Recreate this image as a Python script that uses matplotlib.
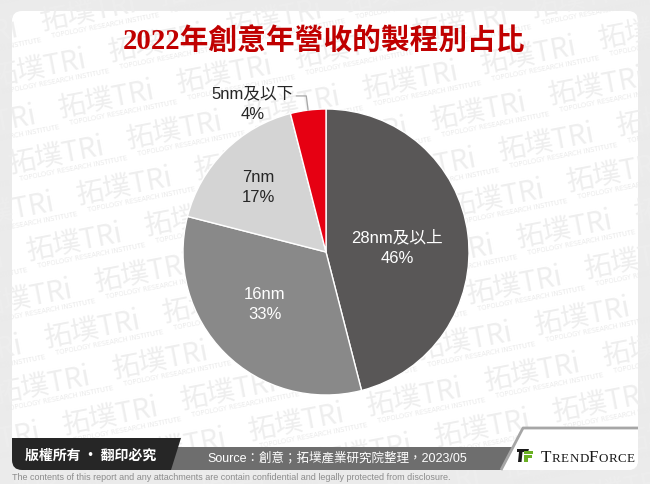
import matplotlib
matplotlib.use('Agg')
import matplotlib.pyplot as plt
from matplotlib.patches import FancyBboxPatch, Polygon
from matplotlib import font_manager
import numpy as np

# ---------------- data ----------------
categories = ['28nm及以上', '16nm', '7nm', '5nm及以下']
shares = [46, 33, 17, 4]
title = '2022年創意年營收的製程別占比'
source_text = 'Source：創意；拓墣產業研究院整理，2023/05'
copyright_text = '版權所有 · 翻印必究'
disclaimer = ('The contents of this report and any attachments are contain '
              'confidential and legally protected from disclosure.')
brand = 'TRENDFORCE'
wm_main = '拓墣TRi'
wm_sub = 'TOPOLOGY RESEARCH INSTITUTE'

# ---------------- style ----------------
slice_colors = ['#595757', '#898989', '#d4d4d4', '#e60012']
label_colors = ['white', 'white', '#262626', '#262626']
label_dist = [0.50, 0.56, 0.66, 1.16]
label_shift = [-3, -5, 1, 19]      # degrees added to slice mid-angle
CJK = 'Noto Sans CJK TC'
LAB = ['Liberation Sans', CJK]

W, H = 650, 485
fig = plt.figure(figsize=(6.5, 4.85), dpi=100)
fig.patch.set_facecolor('#ebebeb')
renderer = fig.canvas.get_renderer()

bg = fig.add_axes([0, 0, 1, 1])
bg.set_xlim(0, W)
bg.set_ylim(H, 0)
bg.axis('off')

PX0, PY0, PX1, PY1 = 12, 12, 638, 471
panel = FancyBboxPatch((PX0, PY0), PX1 - PX0, PY1 - PY0,
                       boxstyle='round,pad=0,rounding_size=10',
                       fc='white', ec='none', zorder=1)
bg.add_patch(panel)


def fit_width(t, target):
    bb = t.get_window_extent(renderer=renderer)
    t.set_fontsize(t.get_fontsize() * target / bb.width)


# ---------------- watermark ----------------
rot = 11
ang = np.deg2rad(rot)
u = np.array([np.cos(ang), -np.sin(ang)])
n = np.array([np.sin(ang), np.cos(ang)])
v1 = np.array([68, 31])
v2 = np.array([18, 87])
origin = np.array([60, 117])
for i in range(-10, 14):
    for j in range(-6, 10):
        p = origin + i * v1 + j * v2
        if -160 < p[0] < 660 and -20 < p[1] < 520:
            t = bg.text(p[0], p[1], wm_main, fontsize=20,
                        family=CJK, color='#eeeeee', rotation=rot,
                        rotation_mode='anchor', ha='left', va='baseline',
                        zorder=2)
            t.set_clip_path(panel)
            q = p + 8 * u + 10 * n
            t2 = bg.text(q[0], q[1], wm_sub, fontsize=4.8, family='DejaVu Sans',
                         color='#eaeaea', rotation=rot, rotation_mode='anchor',
                         ha='left', va='baseline', zorder=2)
            t2.set_clip_path(panel)

# ---------------- title ----------------
tt = bg.text(324, 41, title, color='#c00000', fontsize=20, fontweight='bold',
             family=['Liberation Serif', CJK], ha='center', va='center',
             zorder=5)
fit_width(tt, 402)

# ---------------- pie ----------------
cx, cy, R = 326, 253, 143
ax = fig.add_axes([(cx - R) / W, (H - cy - R) / H, 2 * R / W, 2 * R / H])
wedges, _ = ax.pie(shares, colors=slice_colors, startangle=90,
                   counterclock=False, radius=1,
                   wedgeprops=dict(edgecolor='white', linewidth=1.0))
ax.set_xlim(-1, 1)
ax.set_ylim(-1, 1)
ax.axis('off')

for i, w in enumerate(wedges):
    mid = (w.theta1 + w.theta2) / 2
    a = np.deg2rad(mid + label_shift[i])
    d = label_dist[i]
    ax.text(d * np.cos(a), d * np.sin(a), f'{categories[i]}\n{shares[i]}%',
            ha='center', va='center', color=label_colors[i], fontsize=12,
            family=LAB, linespacing=1.45)
    if d > 1:
        m = np.deg2rad(mid)
        p0 = np.array([np.cos(m), np.sin(m)])
        p1 = 1.1 * p0
        p2 = p1 + np.array([-0.07, 0])
        ax.plot([p0[0], p1[0], p2[0]], [p0[1], p1[1], p2[1]],
                color='#a6a6a6', lw=0.9, clip_on=False)

# ---------------- footer ----------------
gray = Polygon([(176, 448), (513, 448), (506, 471), (168, 471)],
               closed=True, fc='#6e6e6e', ec='none', zorder=3)
bg.add_patch(gray)
dark = Polygon([(12, 439), (181, 439), (171, 471), (12, 471)],
               closed=True, fc='#262626', ec='none', zorder=3.2)
bg.add_patch(dark)
dark.set_clip_path(panel)
wbox = Polygon([(523, 429), (638, 429), (638, 471), (501, 471)],
               closed=True, fc='white', ec='none', zorder=3)
bg.add_patch(wbox)
wbox.set_clip_path(panel)
bg.plot([501, 523, 638], [471, 429, 429], color='#a6a6a6', lw=2,
        zorder=3.1, solid_capstyle='butt')

ct = bg.text(91, 456, copyright_text, color='white', fontsize=10.5,
             fontweight='bold', family=CJK, ha='center', va='center', zorder=4)
fit_width(ct, 132)
st = bg.text(337.5, 458, source_text, color='white', fontsize=9.5,
             family=LAB, ha='center', va='center', zorder=4)
fit_width(st, 261)

# logo icon
bg.add_patch(Polygon([(517, 450), (529, 450), (528, 453), (517, 453)],
                     fc='#1a1a1a', ec='none', zorder=4))
bg.add_patch(Polygon([(519, 453), (522.5, 453), (521.5, 463), (518, 463)],
                     fc='#1a1a1a', ec='none', zorder=4))
bg.add_patch(Polygon([(524, 451.5), (533, 451.5), (533, 454.5), (524, 454.5)],
                     fc='#6ab023', ec='none', zorder=4))
bg.add_patch(Polygon([(524, 456), (532, 456), (532, 459), (524, 459)],
                     fc='#6ab023', ec='none', zorder=4))
bg.add_patch(Polygon([(524, 459), (527.5, 459), (527.5, 463), (524, 463)],
                     fc='#6ab023', ec='none', zorder=4))

# TRENDFORCE in small caps, letter by letter
x = 541
for k, ch in enumerate(brand):
    size = 12.3 if k in (0, 5) else 9.4
    t = bg.text(x, 462.5, ch, fontsize=size, family='Liberation Serif',
                color='#1a1a1a', ha='left', va='baseline', zorder=4)
    x += t.get_window_extent(renderer=renderer).width + 0.4

# disclaimer
try:
    font_manager.findfont('Liberation Sans Narrow', fallback_to_default=False)
    dfam = 'Liberation Sans Narrow'
except Exception:
    dfam = 'Liberation Sans'
dt = bg.text(12, 478, disclaimer, color='#8c8c8c', fontsize=6.5, family=dfam,
             ha='left', va='center', zorder=4)
fit_width(dt, 438)

fig.savefig('out.png', dpi=100, facecolor=fig.get_facecolor())
